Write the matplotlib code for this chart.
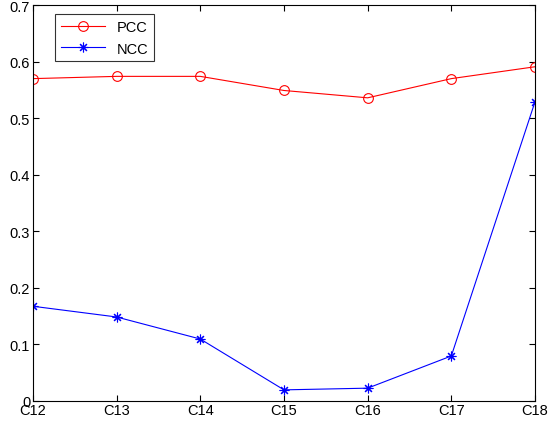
import numpy as np
import matplotlib.pyplot as plt

plt.rcParams['font.family'] = ['Liberation Sans', 'DejaVu Sans']

# categories and series
categories = ['C12', 'C13', 'C14', 'C15', 'C16', 'C17', 'C18']
pcc = [0.570, 0.574, 0.574, 0.549, 0.536, 0.570, 0.591]
ncc = [0.167, 0.148, 0.109, 0.019, 0.022, 0.079, 0.529]

fig = plt.figure(figsize=(5.49, 4.27), dpi=100)
ax = fig.add_axes([0.060, 0.0595, 0.9145, 0.926])

x = np.arange(len(categories))
ax.plot(x, pcc, color='red', lw=0.8, marker='o', markersize=7,
        markerfacecolor='none', markeredgewidth=0.8, label='PCC')
ax.plot(x, ncc, color='blue', lw=0.8, marker=(8, 2, 0), markersize=7,
        markeredgewidth=0.8, label='NCC')

ax.set_xlim(0, len(categories) - 1)
ax.set_ylim(0, 0.7)
ax.set_xticks(x)
ax.set_xticklabels(categories)
ax.set_yticks(np.arange(0, 0.71, 0.1))
ax.set_yticklabels(['0', '0.1', '0.2', '0.3', '0.4', '0.5', '0.6', '0.7'])
ax.tick_params(direction='in', top=True, right=True, labelsize=10.5,
               length=4, width=0.8, pad=2)
for s in ax.spines.values():
    s.set_linewidth(0.8)

leg = ax.legend(loc='upper left', bbox_to_anchor=(0.03, 0.995), fontsize=10.5,
                frameon=True, fancybox=False, edgecolor='black',
                handlelength=3.0, borderpad=0.4, labelspacing=0.5)
leg.get_frame().set_linewidth(0.8)

plt.savefig('out.png', dpi=100)
